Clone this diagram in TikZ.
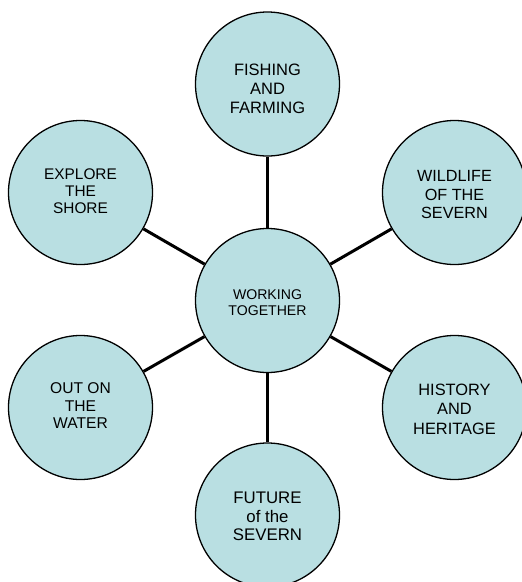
\documentclass[tikz,border=0pt]{standalone}
\usepackage{fontspec}
\setmainfont{Liberation Sans}
\definecolor{bubblefill}{RGB}{185,223,226}
\begin{document}
\begin{tikzpicture}[x=1pt,y=-1pt,
  bubble/.style={circle, draw=black, line width=1.3pt, fill=bubblefill, minimum size=144pt, inner sep=0pt},
  link/.style={draw=black, line width=3pt},
  label/.style={align=center, inner sep=0pt, text=black}]
\useasboundingbox (0,0) rectangle (522,582);
\clip (0,0) rectangle (522,582);
% circles
\node[bubble] (C) at (267.5,300.5) {};
\node[bubble] (T) at (267.5,84) {};
\node[bubble] (EX) at (80.5,192.5) {};
\node[bubble] (WI) at (454.5,192.5) {};
\node[bubble] (OU) at (80.5,407.5) {};
\node[bubble] (HI) at (454.5,407.5) {};
\node[bubble] (FU) at (267.5,515) {};
% connectors
\draw[link] (C) -- (T);
\draw[link] (C) -- (EX);
\draw[link] (C) -- (WI);
\draw[link] (C) -- (OU);
\draw[link] (C) -- (HI);
\draw[link] (C) -- (FU);
% texts
\node[label, font=\fontsize{14.1}{16}\selectfont] (Ct) at (267.5,302.25) {WORKING\\TOGETHER};
\node[label, font=\fontsize{16.5}{18.65}\selectfont] (Tt) at (267.5,88.75) {FISHING\\AND\\FARMING};
\node[label, font=\fontsize{15.4}{17}\selectfont] (EXt) at (80.5,190.8) {EXPLORE\\THE\\SHORE};
\node[label, font=\fontsize{16.2}{18.8}\selectfont] (WIt) at (454.5,194.7) {WILDLIFE\\OF THE\\SEVERN};
\node[label, font=\fontsize{15.6}{17.5}\selectfont] (OUt) at (80.5,405.6) {OUT ON\\THE\\WATER};
\node[label, font=\fontsize{16.4}{19.7}\selectfont] (HIt) at (454.5,409.2) {HISTORY\\AND\\HERITAGE};
\node[label, font=\fontsize{16.8}{18.7}\selectfont] (FUt) at (267.5,516.35) {FUTURE\\of the\\SEVERN};
\end{tikzpicture}
\end{document}
